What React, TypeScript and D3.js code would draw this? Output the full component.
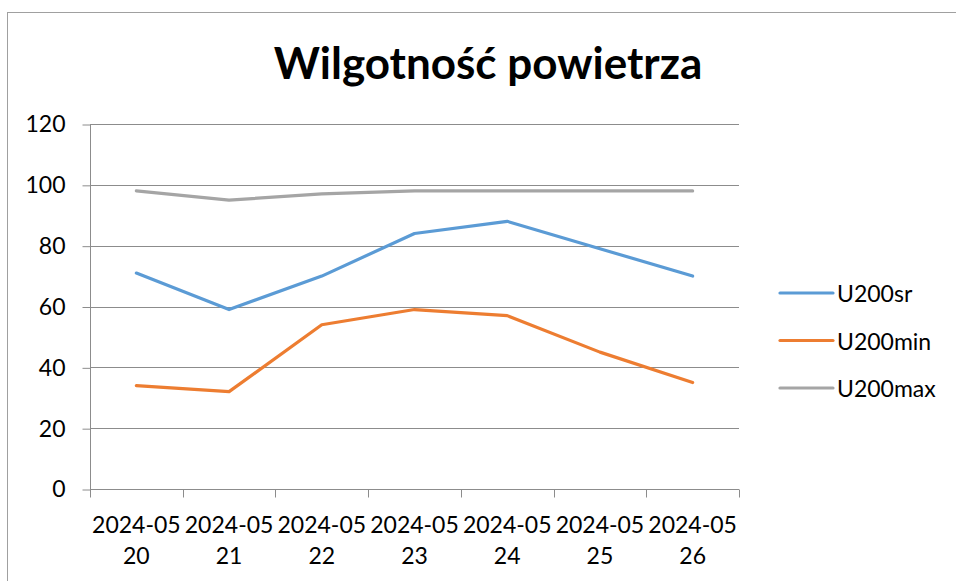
import { useEffect, useRef } from 'react';
import * as d3 from 'd3';

const dates = ['2024-05-20', '2024-05-21', '2024-05-22', '2024-05-23', '2024-05-24', '2024-05-25', '2024-05-26'];
const u200sr = [71, 59, 70, 84, 88, 79, 70];
const u200min = [34, 32, 54, 59, 57, 45, 35];
const u200max = [98, 95, 97, 98, 98, 98, 98];
const yTicks = [0, 20, 40, 60, 80, 100, 120];

const seriesNames = ['U200sr', 'U200min', 'U200max'];
const seriesColors = ['#5b9bd5', '#ed7d31', '#a5a5a5'];

const WIDTH = 956;
const HEIGHT = 581;
const FONT = 'Lato, "Noto Sans", sans-serif';

export default function App() {
  const ref = useRef<SVGSVGElement>(null);

  useEffect(() => {
    const svg = d3.select(ref.current);
    svg.selectAll('*').remove();

    const left = 90;
    const right = 739;
    const top = 124;
    const bottom = 489;

    // outer chart frame (only top and left edges fall inside the window)
    svg
      .append('rect')
      .attr('x', 7.5)
      .attr('y', 12.5)
      .attr('width', WIDTH + 20)
      .attr('height', HEIGHT + 20)
      .attr('fill', '#fff')
      .attr('stroke', '#a0a0a0')
      .attr('stroke-width', 1);

    const x = d3.scaleBand<string>().domain(dates).range([left, right]).padding(0);
    const y = d3.scaleLinear().domain([0, 120]).range([bottom, top]);
    const cx = (d: string) => (x(d) ?? 0) + x.bandwidth() / 2;

    // gridlines
    svg
      .append('g')
      .selectAll('line')
      .data(yTicks.filter((t) => t > 0))
      .join('line')
      .attr('x1', left)
      .attr('x2', right)
      .attr('y1', (d) => Math.round(y(d)) + 0.5)
      .attr('y2', (d) => Math.round(y(d)) + 0.5)
      .attr('stroke', '#8c8c8c')
      .attr('stroke-width', 1);

    // y axis
    const yAxis = svg
      .append('g')
      .attr('transform', `translate(${left + 0.5},0.5)`)
      .call(d3.axisLeft(y).tickValues(yTicks).tickSize(8).tickPadding(17));
    yAxis.select('.domain').attr('stroke', '#8c8c8c').attr('d', `M0,${Math.round(top)}V${Math.round(bottom)}`);
    yAxis.selectAll('.tick line').attr('stroke', '#8c8c8c');
    yAxis
      .selectAll('.tick text')
      .attr('font-family', FONT)
      .attr('font-size', 23)
      .attr('fill', '#000');

    // x axis
    const xAxisG = svg.append('g').attr('transform', `translate(0,${Math.round(bottom) + 0.5})`);
    xAxisG
      .append('line')
      .attr('x1', left)
      .attr('x2', right)
      .attr('stroke', '#8c8c8c');
    const boundaries = dates.map((d) => x(d) ?? 0).concat([right]);
    xAxisG
      .selectAll('line.tk')
      .data(boundaries)
      .join('line')
      .attr('class', 'tk')
      .attr('x1', (d) => Math.round(d) + 0.5)
      .attr('x2', (d) => Math.round(d) + 0.5)
      .attr('y1', 0)
      .attr('y2', 8)
      .attr('stroke', '#8c8c8c');
    const labels = xAxisG
      .selectAll('text')
      .data(dates)
      .join('text')
      .attr('text-anchor', 'middle')
      .attr('font-family', FONT)
      .attr('font-size', 23)
      .attr('fill', '#000');
    labels
      .append('tspan')
      .attr('x', (d) => cx(d))
      .attr('y', 43)
      .text((d) => d.slice(0, 7));
    labels
      .append('tspan')
      .attr('x', (d) => cx(d))
      .attr('y', 74)
      .text((d) => d.slice(8));

    // lines
    const allSeries = [u200sr, u200min, u200max];
    const line = d3
      .line<number>()
      .x((_, i) => cx(dates[i]))
      .y((d) => y(d));
    svg
      .append('g')
      .selectAll('path')
      .data(allSeries)
      .join('path')
      .attr('d', (d) => line(d))
      .attr('fill', 'none')
      .attr('stroke', (_, i) => seriesColors[i])
      .attr('stroke-width', 3.2)
      .attr('stroke-linejoin', 'round')
      .attr('stroke-linecap', 'round');

    // title
    svg
      .append('text')
      .attr('x', 488)
      .attr('y', 79)
      .attr('text-anchor', 'middle')
      .attr('font-family', FONT)
      .attr('font-weight', 'bold')
      .attr('font-size', 44)
      .attr('fill', '#000')
      .text('Wilgotność powietrza');

    // legend
    const legend = svg
      .append('g')
      .selectAll('g')
      .data(seriesNames)
      .join('g')
      .attr('transform', (_, i) => `translate(780,${293 + i * 47.5})`);
    legend
      .append('line')
      .attr('x1', 0)
      .attr('x2', 53)
      .attr('stroke', (_, i) => seriesColors[i])
      .attr('stroke-width', 3.2)
      .attr('stroke-linecap', 'round');
    legend
      .append('text')
      .attr('x', 57)
      .attr('y', 9)
      .attr('font-family', FONT)
      .attr('font-size', 23)
      .attr('fill', '#000')
      .text((d) => d);
  }, []);

  return (
    <svg
      ref={ref}
      width={WIDTH}
      height={HEIGHT}
      style={{ position: 'absolute', left: 0, top: 0, display: 'block' }}
    />
  );
}
